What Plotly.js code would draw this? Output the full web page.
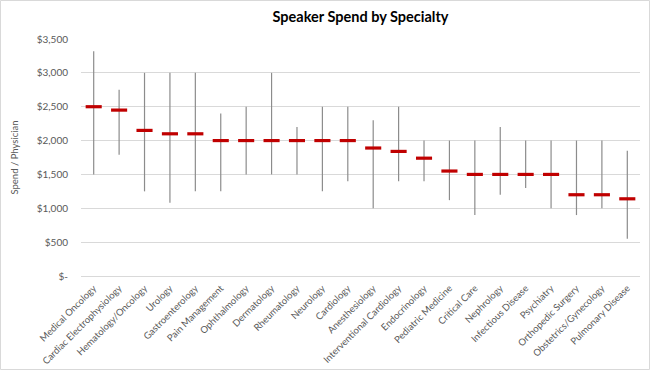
<!DOCTYPE html>
<html>
<head>
<meta charset="utf-8">
<script src="https://cdn.plot.ly/plotly-3.0.1.min.js"></script>
<style>
html,body{margin:0;padding:0;background:#fff;}
#chart{width:650px;height:370px;}
</style>
</head>
<body>
<div id="chart"></div>
<script>
const specialties = ["Medical Oncology","Cardiac Electrophysiology","Hematology/Oncology","Urology","Gastroenterology","Pain Management","Ophthalmology","Dermatology","Rheumatology","Neurology","Cardiology","Anesthesiology","Interventional Cardiology","Endocrinology","Pediatric Medicine","Critical Care","Nephrology","Infectious Disease","Psychiatry","Orthopedic Surgery","Obstetrics/Gynecology","Pulmonary Disease"];
const average = [2500,2450,2150,2100,2100,2000,2000,2000,2000,2000,2000,1890,1840,1740,1550,1500,1500,1500,1500,1200,1200,1140];
const high    = [3320,2750,3000,3000,3000,2400,2500,3000,2200,2500,2500,2300,2500,2000,2000,2000,2200,2000,2000,2000,2000,1850];
const low     = [1500,1790,1250,1080,1250,1250,1500,1500,1500,1250,1400,1000,1400,1400,1120,900,1200,1300,1000,900,1000,550];
const yTickVals = [0,500,1000,1500,2000,2500,3000,3500];
const yTickText = ["$-","$500","$1,000","$1,500","$2,000","$2,500","$3,000","$3,500"];

const plus = high.map((h,i)=>h-average[i]);
const minus = low.map((l,i)=>average[i]-l);

const trace = {
  type:'scatter', mode:'markers',
  x: specialties, y: average,
  marker:{symbol:'line-ew', size:11.5, line:{width:3.2, color:'#C00000'}, color:'#C00000'},
  error_y:{type:'data', symmetric:false, array:plus, arrayminus:minus, width:0, thickness:1.2, color:'#8c8c8c'},
  hoverinfo:'x+y'
};

const W = 650, H = 370, ML = 81, MR = 10, MT = 39, MB = 94;
const PW = W - ML - MR, PH = H - MT - MB;

const font = "Lato, 'Open Sans', sans-serif";
const layout = {
  width:W, height:H,
  margin:{l:ML, r:MR, t:MT, b:MB},
  paper_bgcolor:'#fff', plot_bgcolor:'#fff',
  showlegend:false,
  title:{text:'<b>Speaker Spend by Specialty</b>', x:0.5, xref:'paper', xanchor:'center', y:0.955, yanchor:'middle', font:{family:font, size:14.5, color:'#000'}},
  font:{family:font, color:'#595959'},
  xaxis:{
    type:'category', tickangle:-45, tickfont:{size:9.5, color:'#595959'},
    showgrid:false, showline:true, linecolor:'#d9d9d9', linewidth:1, zeroline:false,
    ticks:'', ticklabelstandoff:2, range:[-0.5, 21.5], fixedrange:true
  },
  yaxis:{
    range:[0,3500], tickvals:yTickVals, ticktext:yTickText,
    tickfont:{size:10, color:'#595959'},
    showgrid:true, gridcolor:'#d9d9d9', gridwidth:1, zeroline:false, showline:false,
    ticks:'', ticklabelstandoff:12,
    title:{text:'Spend / Physician', font:{size:9.5, color:'#595959'}, standoff:16},
    fixedrange:true
  },
  shapes:[{
    type:'rect', xref:'paper', yref:'paper', layer:'above',
    x0:(-ML+0.5)/PW, x1:(PW+MR-0.5)/PW, y0:(-MB+0.5)/PH, y1:(PH+MT-0.5)/PH,
    line:{color:'#d9d9d9', width:1}, fillcolor:'rgba(0,0,0,0)'
  }]
};

Plotly.newPlot('chart',[trace],layout,{displayModeBar:false, staticPlot:true});
</script>
</body>
</html>
